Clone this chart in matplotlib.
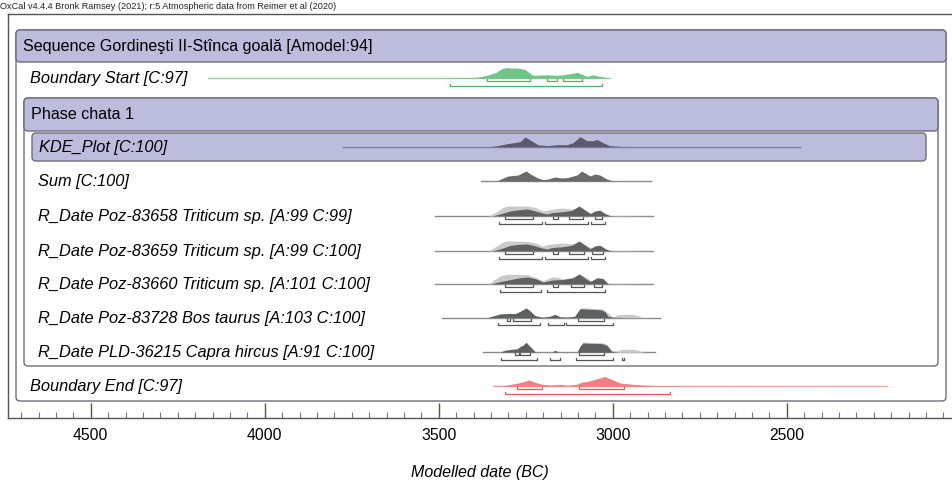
import matplotlib
matplotlib.use("Agg")
import matplotlib.pyplot as plt
from matplotlib.patches import FancyBboxPatch
from matplotlib.ticker import MultipleLocator
import numpy as np

plt.rcParams['font.family'] = ['Liberation Sans', 'DejaVu Sans']

# ---------------- data (years BC, relative heights in px) ----------------
title_text = "OxCal v4.4.4 Bronk Ramsey (2021); r:5 Atmospheric data from Reimer et al (2020)"
seq_label = "Sequence Gordineşti II-Stînca goală [Amodel:94]"
phase_label = "Phase chata 1"
row_labels = ["Boundary Start [C:97]", "KDE_Plot [C:100]", "Sum [C:100]",
              "R_Date Poz-83658 Triticum sp. [A:99 C:99]",
              "R_Date Poz-83659 Triticum sp. [A:99 C:100]",
              "R_Date Poz-83660 Triticum sp. [A:101 C:100]",
              "R_Date Poz-83728 Bos taurus [A:103 C:100]",
              "R_Date PLD-36215 Capra hircus [A:91 C:100]",
              "Boundary End [C:97]"]
xticks_major = [4500, 4000, 3500, 3000, 2500]
xlabel = "Modelled date (BC)"

# Boundary Start
bs_range = [4163, 3008]
bs_yr = [3500, 3468, 3420, 3390, 3361, 3335, 3324, 3315, 3304, 3290, 3275, 3252, 3238, 3229,
         3189, 3160, 3143, 3114, 3102, 3088, 3074, 3057, 3037, 3017, 3008]
bs_h = [0.1, 0.3, 0.6, 1.0, 3.0, 6.0, 8.5, 10.0, 10.7, 10.3, 10.3, 9.0, 5.0, 3.0,
        3.5, 3.0, 3.5, 5.0, 6.0, 4.0, 2.0, 3.5, 2.0, 0.5, 0.0]
bs_r68 = [[3361, 3238], [3189, 3160], [3143, 3088]]
bs_r95 = [[3468, 3031]]

# KDE plot
kde_range = [3775, 2462]
kde_yr = [3353, 3324, 3304, 3266, 3252, 3229, 3215, 3189, 3160, 3131, 3114, 3094, 3074,
          3057, 3045, 3028, 3008, 2979, 2959]
kde_h = [0.0, 1.5, 3.0, 5.0, 9.7, 5.0, 2.0, 1.0, 2.0, 2.0, 4.0, 10.0, 6.0,
         6.0, 7.3, 4.0, 1.0, 0.3, 0.0]

# Sum
sum_range = [3378, 2891]
sum_yr = [3333, 3315, 3301, 3272, 3249, 3235, 3215, 3200, 3186, 3166, 3147, 3129, 3103,
          3089, 3075, 3065, 3051, 3037, 3017, 3003, 2990]
sum_h = [0.0, 3.0, 5.0, 6.0, 10.0, 6.7, 3.0, 1.3, 2.0, 4.0, 3.0, 3.5, 6.0,
         10.0, 7.0, 5.0, 7.0, 6.0, 2.0, 0.3, 0.0]

# R_Date Poz-83658
d1_range = [3511, 2884]
d1_like_yr = [3358, 3333, 3318, 3304, 3246, 3223, 3200, 3186, 3172, 3143, 3123, 3103, 3094,
              3074, 3060, 3045, 3031, 3017, 3000, 2950, 2884]
d1_like_h = [0.0, 4.0, 8.0, 10.0, 10.0, 8.7, 5.0, 6.0, 7.0, 8.0, 7.0, 7.7, 9.5,
             5.0, 3.0, 6.0, 5.0, 1.0, 0.4, 0.3, 0.0]
d1_post_yr = [3347, 3324, 3295, 3275, 3246, 3229, 3203, 3189, 3172, 3143, 3117, 3103, 3097,
              3080, 3065, 3051, 3037, 3022, 3008, 2995]
d1_post_h = [0.0, 2.0, 5.0, 6.0, 7.0, 5.7, 3.0, 2.0, 3.5, 4.3, 5.7, 8.7, 10.0,
             6.0, 2.3, 5.0, 5.7, 2.3, 0.5, 0.0]
d1_r68 = [[3310, 3229], [3172, 3157], [3126, 3085], [3051, 3031]]
d1_r95 = [[3327, 3203], [3194, 3071], [3063, 3022]]

# R_Date Poz-83659
d2_range = [3511, 2884]
d2_like_yr = [3358, 3333, 3318, 3304, 3246, 3223, 3200, 3186, 3172, 3143, 3123, 3103, 3094,
              3074, 3060, 3045, 3031, 3017, 3000, 2950, 2884]
d2_like_h = [0.0, 5.0, 8.5, 10.0, 9.7, 8.0, 5.0, 6.5, 7.0, 8.0, 7.3, 8.0, 9.7,
             5.0, 3.0, 6.0, 5.0, 1.0, 0.4, 0.3, 0.0]
d2_post_yr = [3347, 3324, 3295, 3275, 3246, 3229, 3203, 3189, 3172, 3143, 3117, 3103, 3097,
              3080, 3065, 3051, 3037, 3022, 3008, 2995]
d2_post_h = [0.0, 2.0, 5.5, 6.5, 7.0, 5.7, 3.0, 2.0, 3.5, 4.3, 5.7, 8.7, 10.0,
             6.0, 2.3, 5.0, 5.7, 2.3, 0.5, 0.0]
d2_r68 = [[3310, 3229], [3172, 3157], [3126, 3083], [3060, 3028]]
d2_r95 = [[3327, 3203], [3194, 3071], [3063, 3022]]

# R_Date Poz-83660
d3_range = [3511, 2884]
d3_like_yr = [3358, 3324, 3304, 3246, 3218, 3200, 3175, 3160, 3143, 3114, 3094, 3074, 3060,
              3045, 3028, 3014, 2990, 2884]
d3_like_h = [0.0, 8.0, 9.7, 9.5, 6.0, 3.3, 7.0, 7.0, 5.0, 7.3, 10.0, 6.0, 3.0,
             6.7, 5.5, 0.5, 0.3, 0.0]
d3_post_yr = [3353, 3315, 3266, 3246, 3223, 3200, 3172, 3143, 3114, 3097, 3080, 3065, 3045,
              3028, 3014, 3000]
d3_post_h = [0.0, 3.0, 6.3, 7.0, 5.5, 2.0, 4.0, 4.5, 6.0, 10.0, 6.0, 2.5, 6.0,
             5.5, 0.5, 0.0]
d3_r68 = [[3310, 3229], [3172, 3157], [3120, 3083], [3054, 3031]]
d3_r95 = [[3324, 3206], [3189, 3022]]

# R_Date Poz-83728
d4_range = [3491, 2864]
d4_like_yr = [3361, 3324, 3295, 3281, 3266, 3249, 3238, 3223, 3200, 3180, 3166, 3152, 3131,
              3109, 3094, 3085, 3057, 3031, 3014, 2999, 2985, 2970, 2942, 2927, 2916, 2900]
d4_like_h = [0.0, 3.7, 4.3, 4.0, 6.3, 9.7, 7.0, 2.0, 0.5, 1.5, 3.3, 1.0, 0.5,
             1.5, 9.0, 10.0, 9.3, 9.0, 5.0, 0.7, 3.0, 3.3, 3.3, 2.0, 0.3, 0.0]
d4_post_yr = [3361, 3324, 3295, 3281, 3266, 3249, 3238, 3223, 3200, 3180, 3166, 3152, 3131,
              3109, 3094, 3080, 3057, 3031, 3022, 3014, 2999, 2979, 2960]
d4_post_h = [0.0, 3.7, 4.3, 4.0, 6.3, 9.7, 7.0, 2.0, 0.5, 1.5, 3.3, 1.0, 0.5,
             1.5, 9.0, 8.7, 8.3, 7.7, 6.0, 1.5, 0.5, 0.3, 0.0]
d4_r68 = [[3304, 3295], [3287, 3235], [3100, 3025]]
d4_r95 = [[3330, 3209], [3186, 3140], [3134, 3000]]

# R_Date PLD-36215
d5_range = [3373, 2878]
d5_like_yr = [3324, 3310, 3290, 3275, 3266, 3258, 3249, 3238, 3223, 3210, 3175, 3166, 3157,
              3145, 3103, 3094, 3086, 3057, 3031, 3017, 3003, 2988, 2973, 2942, 2927, 2916, 2900]
d5_like_h = [0.0, 2.0, 3.0, 3.3, 5.7, 7.0, 10.0, 6.0, 0.7, 0.0, 0.0, 2.0, 0.3,
             0.0, 0.0, 6.0, 10.3, 9.7, 9.7, 8.0, 2.0, 1.5, 3.0, 3.0, 2.3, 0.3, 0.0]
d5_post_yr = [3324, 3310, 3290, 3275, 3266, 3258, 3249, 3238, 3223, 3210, 3175, 3166, 3157,
              3145, 3103, 3094, 3086, 3065, 3031, 3017, 3003, 2990, 2980]
d5_post_h = [0.0, 2.0, 3.0, 3.3, 5.7, 7.0, 10.0, 6.0, 0.7, 0.0, 0.0, 2.0, 0.3,
             0.0, 0.0, 6.0, 9.3, 9.0, 8.7, 7.0, 1.0, 0.3, 0.0]
d5_r68 = [[3281, 3269], [3266, 3238], [3097, 3025]]
d5_r95 = [[3321, 3218], [3180, 3152], [3106, 3000], [2973, 2968]]

# Boundary End
be_range = [3344, 2212]
be_yr = [3344, 3330, 3315, 3275, 3252, 3241, 3223, 3203, 3180, 3152, 3131, 3103, 3088, 3074,
         3057, 3031, 3022, 3002, 2979, 2942, 2884, 2807, 2600, 2212]
be_h = [0.0, 0.3, 0.7, 3.0, 5.0, 6.3, 4.0, 2.0, 1.3, 2.0, 1.0, 2.0, 4.3, 4.7,
        6.3, 9.0, 9.7, 6.7, 3.3, 2.0, 0.7, 0.3, 0.1, 0.0]
be_r68 = [[3275, 3203], [3097, 2968]]
be_r95 = [[3310, 2835]]

# ---------------- layout ----------------
W, H = 952, 487
fig = plt.figure(figsize=(W / 100, H / 100), dpi=100)

lay = fig.add_axes([0, 0, 1, 1])
lay.set_xlim(0, W)
lay.set_ylim(H, 0)
lay.axis('off')

lavender = '#bcbcdd'
edge = '#6e6e7a'

def rbox(x0, y0, x1, y1, fc, ec=edge, lw=1.0, z=1):
    p = FancyBboxPatch((x0, y0), x1 - x0, y1 - y0,
                       boxstyle="round,pad=0,rounding_size=4",
                       fc=fc, ec=ec, lw=lw, zorder=z)
    lay.add_patch(p)

# Sequence box
rbox(16, 30, 946, 401, 'white', z=1)
rbox(16, 30, 946, 62, lavender, z=2)
# Phase box
rbox(24, 98, 938, 366, 'white', z=3)
rbox(24, 98, 938, 131, lavender, z=4)
# KDE box
rbox(32, 133, 926, 161, lavender, z=5)

lay.text(23, 46, seq_label, fontsize=11.6, va='center', ha='left', zorder=10)
lay.text(31, 114.5, phase_label, fontsize=11.6, va='center', ha='left', zorder=10)
lay.text(0, 6.5, title_text, fontsize=6.6, va='center', ha='left', color='#222222')

row_y = [78.3, 146.7, 181, 216, 251, 284, 317.7, 352.3, 386.3]
row_x = [30, 39, 38, 38, 38, 38, 38, 38, 30]
for lbl, yy, xx in zip(row_labels, row_y, row_x):
    lay.text(xx, yy + 0.5, lbl, fontsize=11.8, style='italic', va='center', ha='left', zorder=10)

lay.text(480, 473, xlabel, fontsize=11.5, style='italic', va='center', ha='center')

# ---------------- data axes ----------------
x0px, x1px, ytop, ybot = 8, 952, 14, 418
ax = fig.add_axes([x0px / W, (H - ybot) / H, (x1px - x0px) / W, (ybot - ytop) / H])
ax.patch.set_alpha(0)
px_per_yr = 0.348
yr_at_left = 4500 + (90.7 - x0px) / px_per_yr
yr_at_right = 4500 - (x1px - 90.7) / px_per_yr
ax.set_xlim(yr_at_left, yr_at_right)
ax.set_ylim(ybot, ytop)
ax.spines['right'].set_visible(False)
for s in ['left', 'top', 'bottom']:
    ax.spines[s].set_color('#555555')
    ax.spines[s].set_linewidth(1.0)
ax.set_xticks(xticks_major)
ax.set_xticklabels([str(t) for t in xticks_major], fontsize=11.3)
ax.xaxis.set_minor_locator(MultipleLocator(50))
ax.tick_params(axis='x', which='major', direction='in', length=11, width=1, color='#555555', pad=7)
ax.tick_params(axis='x', which='minor', direction='in', length=4, width=0.8, color='#777777')
ax.set_yticks([])

def dist(base, yrs, hs, rng, fc, lc, z=3):
    ax.plot(rng, [base, base], color=lc, lw=1.0, zorder=z)
    ax.fill_between(yrs, base, base - np.array(hs), color=fc, lw=0, zorder=z + 0.5)

def brackets(base, r68, r95, col):
    for rr, off in ((r68, 3.0), (r95, 7.5)):
        for a, b in rr:
            ax.plot([a, a, b, b], [base + off - 2, base + off, base + off, base + off - 2],
                    color=col, lw=0.9, zorder=6)

green_fill, green_line = '#72c588', '#8fd6a0'
red_fill, red_line = '#f07f82', '#f6a6a8'
post_fill, like_fill = '#5f6062', '#cacaca'
gray_line = '#8a8a8a'

# Boundary Start
dist(row_y[0], bs_yr, bs_h, bs_range, green_fill, green_line)
brackets(row_y[0], bs_r68, bs_r95, '#4fb36a')
# KDE
dist(row_y[1], kde_yr, kde_h, kde_range, '#595a6e', '#8080a0')
# Sum
dist(row_y[2], sum_yr, sum_h, sum_range, '#6a6a6c', gray_line)
# R_Dates
rd = [(d1_range, d1_like_yr, d1_like_h, d1_post_yr, d1_post_h, d1_r68, d1_r95),
      (d2_range, d2_like_yr, d2_like_h, d2_post_yr, d2_post_h, d2_r68, d2_r95),
      (d3_range, d3_like_yr, d3_like_h, d3_post_yr, d3_post_h, d3_r68, d3_r95),
      (d4_range, d4_like_yr, d4_like_h, d4_post_yr, d4_post_h, d4_r68, d4_r95),
      (d5_range, d5_like_yr, d5_like_h, d5_post_yr, d5_post_h, d5_r68, d5_r95)]
for i, (rng, lyr, lh, pyr, ph, r68, r95) in enumerate(rd):
    base = row_y[3 + i]
    dist(base, lyr, lh, rng, like_fill, gray_line)
    ax.fill_between(pyr, base, base - np.array(ph), color=post_fill, lw=0, zorder=4)
    brackets(base, r68, r95, '#555555')
# Boundary End
dist(row_y[8], be_yr, be_h, be_range, red_fill, red_line)
brackets(row_y[8], be_r68, be_r95, '#e0585c')

fig.savefig('out.png', dpi=100)
